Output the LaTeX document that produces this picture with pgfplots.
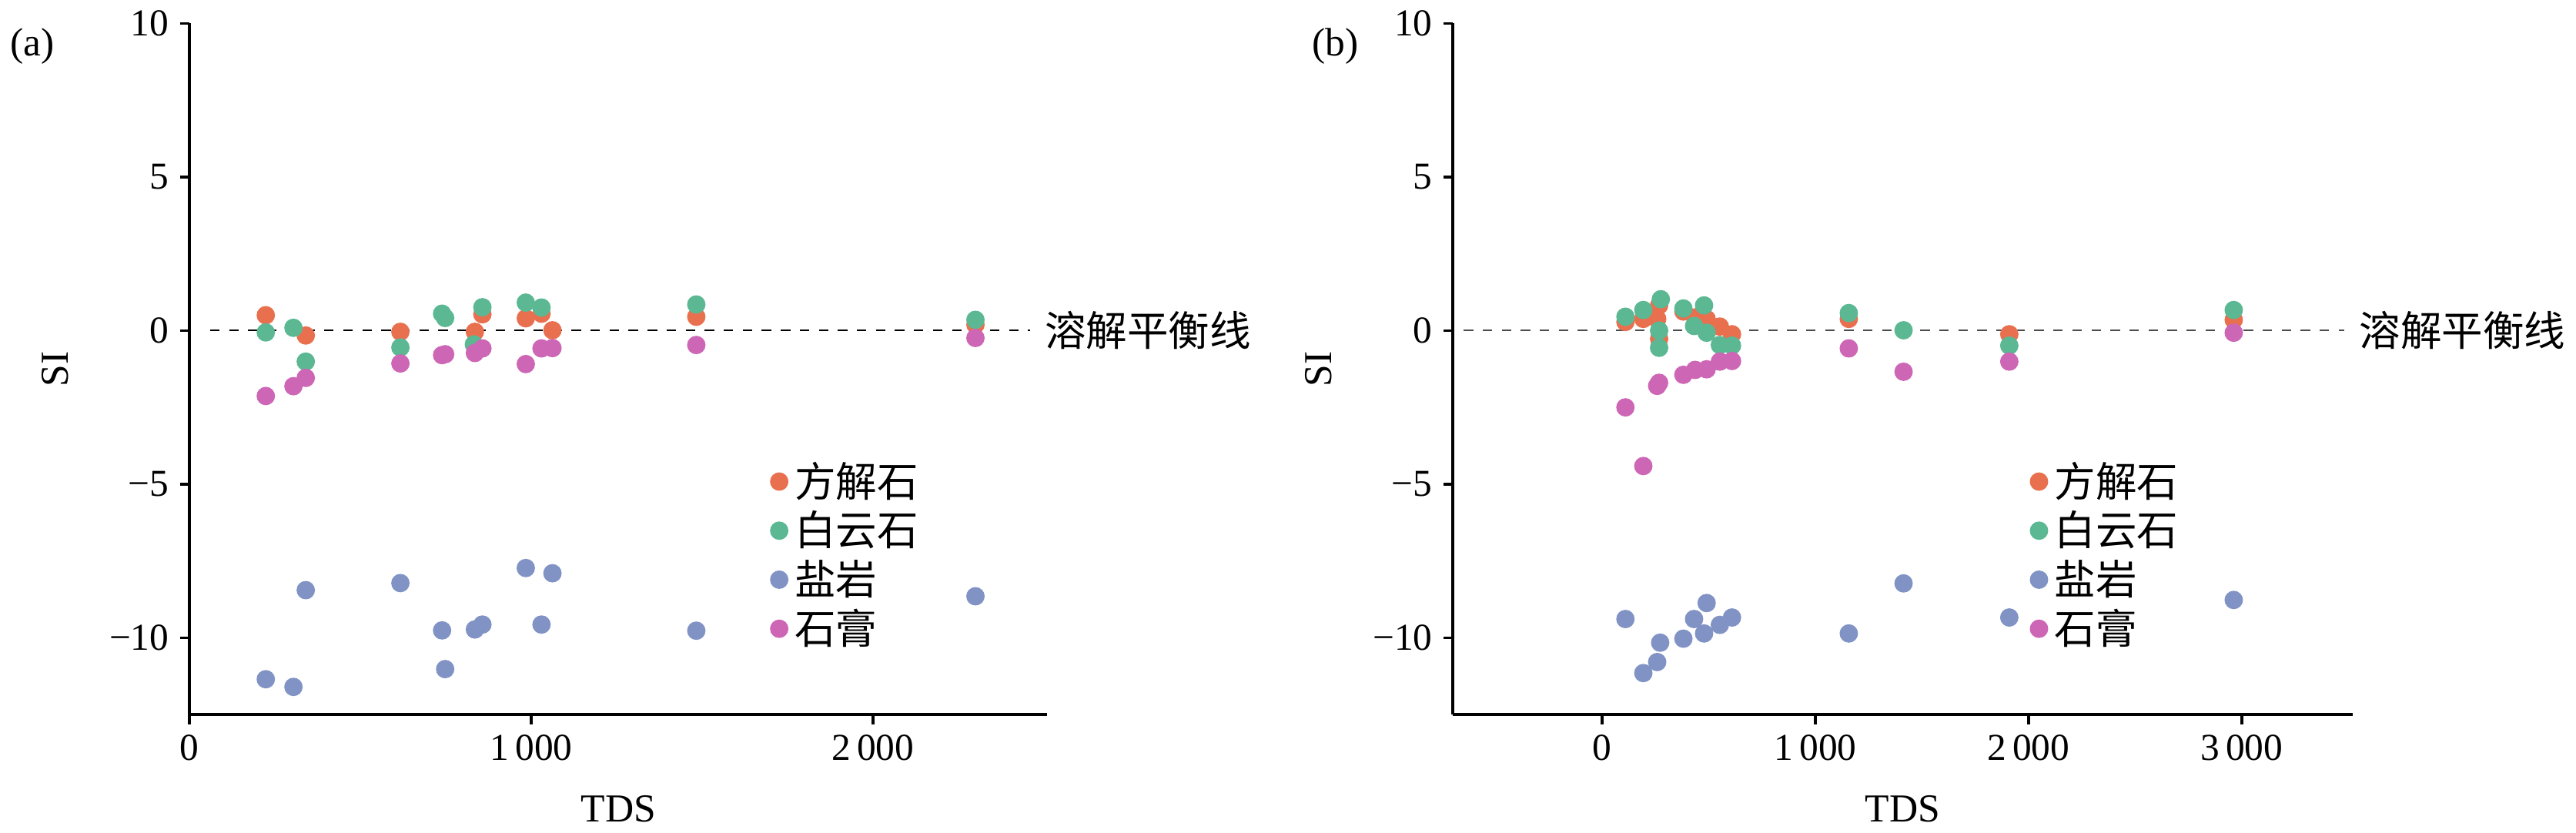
\documentclass[border=0pt]{standalone}
\usepackage{pgfplots}
\pgfplotsset{compat=1.18}
\usepackage{fontspec}
\setmainfont{Liberation Serif}
\newfontfamily\cjk{Noto Sans CJK SC}
\definecolor{cO}{HTML}{E8704F}
\definecolor{cG}{HTML}{5BB893}
\definecolor{cB}{HTML}{8093C4}
\definecolor{cM}{HTML}{CC66B5}
\pgfplotsset{
 myax/.style={
  width=270.5pt, height=218pt, scale only axis,
  axis lines=left, axis line style={-, line width=0.9pt},
  tick style={line width=0.9pt, black}, tick align=outside, major tick length=3pt,
  ymin=-12.5, ymax=10, ytick={-10,-5,0,5,10}, yticklabels={−10,−5,0,5,10},
  /pgf/number format/assume math mode=true,
  /pgf/number format/1000 sep={\,},
  ticklabel style={font=\fontsize{12}{12}\selectfont},
  label style={font=\fontsize{12.5}{13}\selectfont},
  xlabel={TDS}, ylabel={SI},
  xlabel style={yshift=-4pt},
  ylabel style={yshift=6pt},
  clip=false,
  legend style={draw=none, fill=none, font=\fontsize{13}{15}\selectfont\cjk, row sep=-1pt},
  legend cell align=left,
  legend image code/.code={\fill (0.15cm,0) circle (2.7pt);},
 },
 sc/.style={only marks, mark=*, mark size=2.7pt, color=#1, mark options={draw=#1, fill=#1}},
}
\begin{document}
\begin{tikzpicture}
\begin{axis}[myax, xmin=0, xmax=2510, xtick={0,1000,2000},
  legend style={at={(0.665,0.385)}, anchor=north west}]
\addplot[sc=cO] coordinates {(223,0.5)(340,-0.16)(617,-0.04)(835,-0.04)(857,0.53)(984,0.4)(1030,0.55)(1062,0.01)(1483,0.45)(2300,0.19)};
\addplot[sc=cG] coordinates {(223,-0.06)(304,0.09)(340,-1.01)(617,-0.55)(739,0.55)(748,0.41)(832,-0.45)(857,0.76)(984,0.91)(1030,0.75)(1483,0.85)(2300,0.35)};
\addplot[sc=cB] coordinates {(223,-11.35)(304,-11.6)(340,-8.45)(617,-8.22)(739,-9.76)(748,-11.02)(835,-9.73)(857,-9.57)(984,-7.73)(1030,-9.57)(1062,-7.9)(1483,-9.77)(2300,-8.65)};
\addplot[sc=cM] coordinates {(223,-2.13)(304,-1.81)(340,-1.54)(617,-1.07)(739,-0.8)(748,-0.77)(835,-0.73)(857,-0.58)(984,-1.09)(1030,-0.58)(1062,-0.57)(1483,-0.47)(2300,-0.24)};
\legend{方解石,白云石,盐岩,石膏}
\addplot[black, dashed, line width=0.5pt, forget plot] coordinates {(60,0)(2460,0)};
\node[anchor=west, font=\fontsize{13}{13}\selectfont\cjk] at (axis cs:2470,0) {溶解平衡线};
\node[anchor=north west, font=\fontsize{12.5}{13}\selectfont] at ([xshift=-60pt,yshift=2pt]rel axis cs:0,1) {(a)};
\end{axis}
\begin{axis}[myax, at={(398.5pt,0)}, width=283.7pt, xmin=-700, xmax=3520, xtick={0,1000,2000,3000},
  legend style={at={(0.63,0.385)}, anchor=north west}]
\addplot[sc=cO] coordinates {(109,0.28)(193,0.38)(267,0.82)(258,0.38)(267,-0.27)(381,0.62)(436,0.43)(490,0.38)(552,0.13)(609,-0.12)(1157,0.38)(1910,-0.12)(2963,0.35)};
\addplot[sc=cG] coordinates {(109,0.45)(193,0.67)(275,1.02)(267,0)(267,-0.56)(381,0.72)(478,0.82)(431,0.15)(490,-0.07)(552,-0.47)(609,-0.49)(1157,0.57)(1414,0.01)(1910,-0.49)(2963,0.67)};
\addplot[sc=cB] coordinates {(109,-9.39)(193,-11.15)(258,-10.79)(272,-10.16)(381,-10.03)(431,-9.39)(490,-8.87)(478,-9.86)(552,-9.58)(609,-9.34)(1157,-9.86)(1414,-8.23)(1910,-9.34)(2963,-8.77)};
\addplot[sc=cM] coordinates {(109,-2.5)(193,-4.41)(267,-1.7)(258,-1.8)(381,-1.44)(436,-1.28)(490,-1.26)(552,-1.01)(609,-0.99)(1157,-0.58)(1414,-1.34)(1910,-1.01)(2963,-0.07)};
\legend{方解石,白云石,盐岩,石膏}
\addplot[black!70, dashed, line width=0.5pt, forget plot] coordinates {(-650,0)(3480,0)};
\node[anchor=west, font=\fontsize{13}{13}\selectfont\cjk] at (axis cs:3500,0) {溶解平衡线};
\node[anchor=north west, font=\fontsize{12.5}{13}\selectfont] at ([xshift=-48pt,yshift=2pt]rel axis cs:0,1) {(b)};
\end{axis}
\end{tikzpicture}
\end{document}
